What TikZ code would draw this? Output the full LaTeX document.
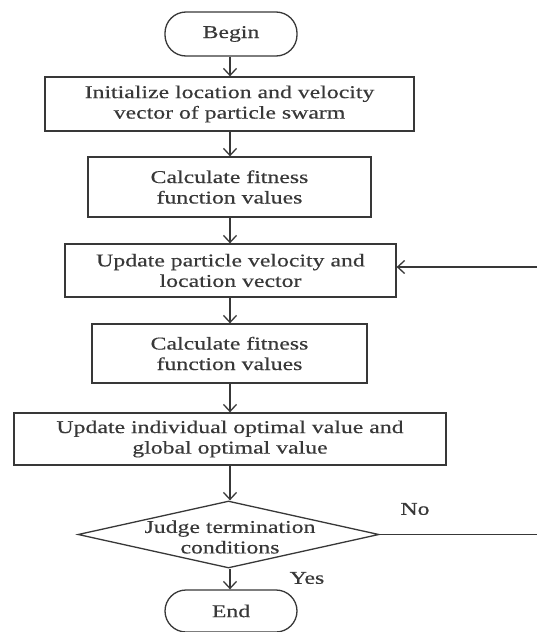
\documentclass[tikz,border=0pt]{standalone}
\usepackage{fontspec}
\setmainfont{Liberation Serif}[FakeStretch=1.32,FakeBold=0.4]
\usetikzlibrary{arrows.meta,shapes.geometric}
\definecolor{ink}{HTML}{383838}
\tikzset{
  box/.style={draw=ink, line width=1.3pt, rectangle, inner sep=0pt, align=center, text=ink},
  term/.style={box, rounded corners=21pt},
  txt/.style={align=center, text=ink, inner sep=0pt},
  flow/.style={draw=ink, line width=1.3pt, -{Straight Barb[length=7pt,width=13pt,line width=1.3pt]}},
  plain/.style={draw=ink, line width=1.3pt},
}
\begin{document}
\begin{tikzpicture}[x=1pt,y=-1pt, font=\fontsize{18}{20.5}\selectfont]
\useasboundingbox (0,0) rectangle (537,632);
\fill[white] (0,0) rectangle (537,632);
\node[term, minimum width=132pt, minimum height=44pt] (begin) at (231,34) {Begin};
\node[box, minimum width=369pt, minimum height=54pt] (init) at (229.5,104) {Initialize location and velocity\\vector of particle swarm};
\node[box, minimum width=283pt, minimum height=60pt] (calc1) at (229.5,187) {Calculate fitness\\function values};
\node[box, minimum width=331pt, minimum height=53pt] (upd) at (230.5,270.5) {Update particle velocity and\\location vector};
\node[box, minimum width=275pt, minimum height=59pt] (calc2) at (229.5,353.5) {Calculate fitness\\function values};
\node[box, minimum width=432pt, minimum height=52pt] (updind) at (230,439) {Update individual optimal value and\\global optimal value};
\node[diamond, draw=ink, line width=1.3pt, minimum width=301pt, minimum height=67pt, inner sep=0pt] (judge) at (228.5,534.5) {};
\node[txt] (judgetxt) at (230,537) {Judge termination\\conditions};
\node[term, minimum width=132pt, minimum height=42pt] (end) at (231,611) {End};
\node[txt] (no) at (415,509) {No};
\node[txt] (yes) at (307,578) {Yes};
\coordinate (rin) at (537,267);
\coordinate (rout) at (537,534.5);
\draw[flow] (begin.south -| 230,0) -- (init.north -| 230,0);
\draw[flow] (init.south -| 230,0) -- (calc1.north -| 230,0);
\draw[flow] (calc1.south -| 230,0) -- (upd.north -| 230,0);
\draw[flow] (upd.south -| 230,0) -- (calc2.north -| 230,0);
\draw[flow] (calc2.south -| 230,0) -- (updind.north -| 230,0);
\draw[flow] (updind.south -| 230,0) -- (judge.north -| 230,0);
\draw[flow] (judge.south -| 230,0) -- (end.north -| 230,0);
\draw[plain] (judge.east) -- (rout);
\draw[flow] (rin) -- (rin -| upd.east);
\end{tikzpicture}
\end{document}
